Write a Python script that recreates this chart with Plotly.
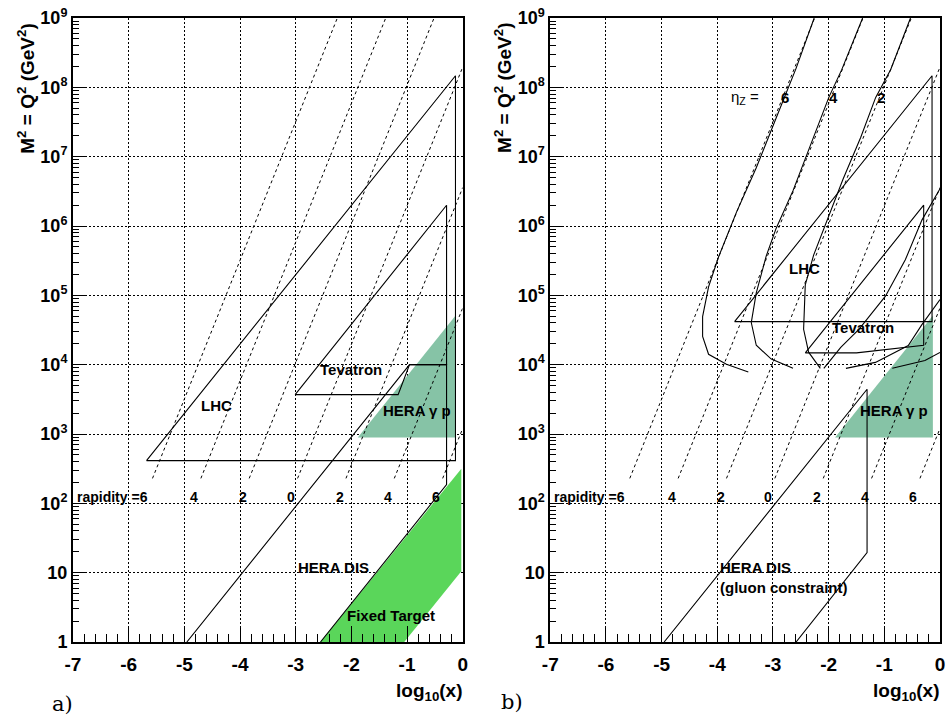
import plotly.graph_objects as go

# ---------------- data (log10 x , M^2) ----------------
# rapidity lines (dashed), identical in both panels
rap_values = [6, 4, 2, 0, -2, -4, -6]
rap_x_start = [-5.572, -4.703, -3.835, -2.966, -2.097, -1.229, -0.360]
rap_x_end = [-2.252, -1.383, -0.515, 0.0, 0.0, 0.0, 0.0]
rap_m2_start = [229, 229, 229, 229, 229, 229, 229]
rap_m2_end = [1e9, 1e9, 1e9, 1.96e8, 3.59e6, 6.58e4, 1.205e3]
rap_label_text = ["4", "2", "0", "2", "4", "6"]
rap_label_x = [-4.82, -3.94, -3.09, -2.21, -1.35, -0.48]

# panel a regions
lhc_a_x = [-5.68, -0.13, -0.13, -5.68]
lhc_a_m2 = [413, 413, 1.47e8, 413]
tev_a_x = [-3.01, -1.16, -0.955, -0.29, -0.29, -3.01]
tev_a_m2 = [3.7e3, 3.7e3, 1e4, 1e4, 1.99e6, 3.7e3]
hera_dis_a_x = [-4.955, -0.955, -0.29, -0.29, -2.555]
hera_dis_a_m2 = [1.0, 1e4, 1e4, 186, 1.0]
hera_gp_x = [-1.885, -0.128, -0.128, -1.885]
hera_gp_m2 = [891, 891, 5.13e4, 891]
fixed_x = [-2.555, -1.05, -0.025, -0.025, -2.555]
fixed_m2 = [1.0, 1.0, 10.5, 316, 1.0]

# panel b regions
lhc_b_x = [-3.69, -0.143, -0.143, -3.69]
lhc_b_m2 = [4.17e4, 4.17e4, 1.47e8, 4.17e4]
tev_b_x = [-2.42, -1.5, -0.293, -0.293, -2.42]
tev_b_m2 = [1.48e4, 1.48e4, 1.9e4, 2.0e6, 1.48e4]
hera_dis_b_x = [-4.955, -1.31, -1.31, -2.585]
hera_dis_b_m2 = [1.0, 4.42e3, 19.5, 1.0]

# eta_Z curves (panel b): log10 x and log10 M^2
eta6_x = [-2.26, -2.587, -2.943, -3.30, -3.657, -3.978, -4.157, -4.264, -4.264, -4.157, -3.836, -3.443]
eta6_L = [9.0, 8.27, 7.557, 6.84, 6.197, 5.553, 5.123, 4.694, 4.408, 4.150, 4.007, 3.893]
eta4_x = [-1.39, -1.765, -1.997, -2.318, -2.64, -2.944, -3.122, -3.30, -3.39, -3.30, -3.03, -2.64]
eta4_L = [9.0, 8.255, 7.855, 7.18, 6.51, 5.965, 5.565, 5.036, 4.607, 4.28, 4.08, 3.947]
eta2_x = [-0.53, -0.887, -1.155, -1.423, -1.744, -2.03, -2.27, -2.42, -2.45, -2.36, -2.15]
eta2_L = [9.0, 8.255, 7.855, 7.28, 6.67, 6.067, 5.58, 5.15, 4.51, 4.18, 3.947]
etaD_x = [0.0, -0.325, -0.623, -0.980, -1.457, -1.783, -2.087]
etaD_L = [6.538, 6.085, 5.512, 4.988, 4.510, 4.248, 3.947]
etaE_x = [0.0, -0.325, -0.57, -1.16, -1.69]
etaE_L = [4.94, 4.577, 4.276, 4.033, 3.947]
etaF_x = [0.0, -0.27, -0.857]
etaF_L = [4.176, 4.06, 3.947]
eta_label_text = ["6", "4", "2"]
eta_label_x = [-2.78, -1.91, -1.06]

x_ticks = [-7, -6, -5, -4, -3, -2, -1, 0]
x_ticktext = ["<b>-7</b>", "<b>-6</b>", "<b>-5</b>", "<b>-4</b>", "<b>-3</b>", "<b>-2</b>",
              "<b>-1</b>", "<b>0</b>"]
y_tickvals = [1, 10, 1e2, 1e3, 1e4, 1e5, 1e6, 1e7, 1e8, 1e9]
y_ticktext = ["<b>1</b>", "<b>10</b>"] + ["<b>10<sup>%d</sup></b>" % k for k in range(2, 10)]

HERA_GP_COLOR = "#86c3a6"
FIXED_COLOR = "#5ad65a"
FONT = "Liberation Sans"

fig = go.Figure()


def line(x, y, xa, ya, dash="solid", width=1.1, color="black"):
    fig.add_trace(go.Scatter(x=x, y=y, mode="lines", xaxis=xa, yaxis=ya,
                             line=dict(color=color, width=width, dash=dash),
                             hoverinfo="skip", showlegend=False))


def fill(x, y, xa, ya, color):
    fig.add_trace(go.Scatter(x=x, y=y, mode="lines", xaxis=xa, yaxis=ya, fill="toself",
                             fillcolor=color, line=dict(width=0, color=color),
                             hoverinfo="skip", showlegend=False))


for xa, ya in (("x", "y"), ("x2", "y2")):
    fill(hera_gp_x, hera_gp_m2, xa, ya, HERA_GP_COLOR)
fill(fixed_x, fixed_m2, "x", "y", FIXED_COLOR)

for xa, ya in (("x", "y"), ("x2", "y2")):
    for i in range(len(rap_values)):
        line([rap_x_start[i], rap_x_end[i]], [rap_m2_start[i], rap_m2_end[i]], xa, ya,
             dash="3px,3px", width=1)

line(lhc_a_x, lhc_a_m2, "x", "y")
line(tev_a_x, tev_a_m2, "x", "y")
line(hera_dis_a_x, hera_dis_a_m2, "x", "y")

line(lhc_b_x, lhc_b_m2, "x2", "y2")
line(tev_b_x, tev_b_m2, "x2", "y2")
line(hera_dis_b_x, hera_dis_b_m2, "x2", "y2")
for cx, cl in ((eta6_x, eta6_L), (eta4_x, eta4_L), (eta2_x, eta2_L),
               (etaD_x, etaD_L), (etaE_x, etaE_L), (etaF_x, etaF_L)):
    line(cx, [10 ** v for v in cl], "x2", "y2")

# ---------------- axes ----------------
minor_y = [m * 10 ** d for d in range(0, 9) for m in range(2, 10)]
xfont = dict(family=FONT, size=19, color="black", weight="bold")
yfont = dict(family=FONT, size=18, color="black", weight="bold")
xcommon = dict(range=[-7, 0], tickmode="array", tickvals=x_ticks, ticktext=x_ticktext,
               ticks="inside", ticklen=16,
               tickwidth=1, tickcolor="black", showline=True, linewidth=2, linecolor="black",
               mirror=True, showgrid=True, gridcolor="black", gridwidth=1, griddash="2px,2px",
               zeroline=False, tickfont=xfont, ticklabelstandoff=4,
               minor=dict(dtick=0.2, tick0=-7, ticks="inside", ticklen=8, tickcolor="black",
                          tickwidth=1, showgrid=False))
ycommon = dict(type="log", range=[0, 9], tickmode="array", tickvals=y_tickvals,
               ticktext=y_ticktext, ticks="inside", ticklen=12, tickwidth=1, tickcolor="black",
               showline=True, linewidth=2, linecolor="black", mirror=True, showgrid=True,
               gridcolor="black", gridwidth=1, griddash="2px,2px", zeroline=False,
               tickfont=yfont, ticklabelstandoff=0,
               minor=dict(tickmode="array", tickvals=minor_y, ticks="inside", ticklen=6,
                          tickcolor="black", tickwidth=1, showgrid=False))

fig.update_layout(
    width=951, height=721,
    margin=dict(l=73, r=6, t=13, b=79),
    paper_bgcolor="white", plot_bgcolor="white",
    xaxis=dict(domain=[0, 0.4495], anchor="y", **xcommon),
    yaxis=dict(domain=[0, 1], anchor="x", **ycommon),
    xaxis2=dict(domain=[0.5505, 1.0], anchor="y2", **xcommon),
    yaxis2=dict(domain=[0, 1], anchor="x2", **ycommon),
)

# ---------------- text ----------------
lbl = dict(family=FONT, size=15, color="black", weight="bold")
ann = []
for xr, yr in (("x", "y"), ("x2", "y2")):
    ann.append(dict(x=-5.62, y=2.09, xref=xr, yref=yr, text="<b>rapidity =6</b>",
                    showarrow=False, xanchor="right", yanchor="middle",
                    font=dict(family=FONT, size=14, color="black")))
    for t, xv in zip(rap_label_text, rap_label_x):
        ann.append(dict(x=xv, y=2.09, xref=xr, yref=yr, text="<b>%s</b>" % t, showarrow=False,
                        xanchor="center", yanchor="middle",
                        font=dict(family=FONT, size=14, color="black")))
    ann.append(dict(x=-0.83, y=3.34, xref=xr, yref=yr, text="<b>HERA γ p</b>", showarrow=False,
                    xanchor="center", yanchor="middle", font=lbl))


def add_lbl(x, y, t, xr, yr, xanchor="center", font=lbl):
    ann.append(dict(x=x, y=y, xref=xr, yref=yr, text=t, showarrow=False,
                    xanchor=xanchor, yanchor="middle", font=font))


add_lbl(-4.43, 3.41, "<b>LHC</b>", "x", "y")
add_lbl(-2.0, 3.93, "<b>Tevatron</b>", "x", "y")
add_lbl(-2.33, 1.07, "<b>HERA DIS</b>", "x", "y")
add_lbl(-1.28, 0.38, "<b>Fixed Target</b>", "x", "y")
add_lbl(-2.44, 5.39, "<b>LHC</b>", "x2", "y2")
add_lbl(-1.39, 4.53, "<b>Tevatron</b>", "x2", "y2")
add_lbl(-3.99, 1.07, "<b>HERA DIS</b>", "x2", "y2", xanchor="left")
add_lbl(-3.99, 0.78, "<b>(gluon constraint)</b>", "x2", "y2", xanchor="left")
add_lbl(-3.51, 7.85, "η<sub>Z</sub> =", "x2", "y2", font=dict(family=FONT, size=15, color="black"))
for t, xv in zip(eta_label_text, eta_label_x):
    add_lbl(xv, 7.85, "<b>%s</b>" % t, "x2", "y2")

title_font = dict(family=FONT, size=19, color="black")
for px_x in (26, 506):
    ann.append(dict(x=(px_x - 73) / 872, y=(642 - 84) / 629, xref="paper", yref="paper",
                    text="<b>M<sup>2</sup> = Q<sup>2</sup> (GeV<sup>2</sup>)</b>", textangle=-90,
                    xanchor="center", yanchor="middle", showarrow=False, font=title_font))
for px_r in (467, 947):
    ann.append(dict(x=(px_r - 73) / 872, y=(642 - 692) / 629, xref="paper", yref="paper",
                    text="<b>log<sub>10</sub>(x)</b>", xanchor="right", yanchor="middle",
                    showarrow=False, font=title_font))
serif = dict(family="DejaVu Serif", size=21, color="black")
ann.append(dict(x=(62 - 73) / 872, y=(642 - 704) / 629, xref="paper", yref="paper",
                text="a)", showarrow=False, xanchor="center", yanchor="middle", font=serif))
ann.append(dict(x=(515 - 73) / 872, y=(642 - 702) / 629, xref="paper", yref="paper",
                text="b)", showarrow=False, xanchor="center", yanchor="middle", font=serif))
fig.update_layout(annotations=ann)

fig.write_html("out.html")
